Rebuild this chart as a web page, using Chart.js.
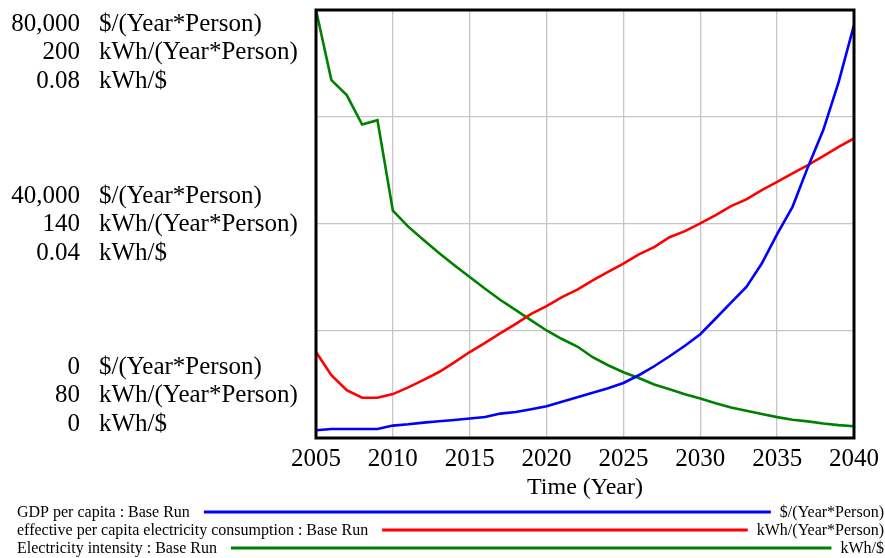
<!DOCTYPE html>
<html>
<head>
<meta charset="utf-8">
<script src="https://cdn.jsdelivr.net/npm/chart.js@4/dist/chart.umd.min.js"></script>
<style>
  html, body { margin: 0; padding: 0; background: #ffffff; }
  #wrap { width: 885px; height: 558px; position: relative; }
</style>
</head>
<body>
<div id="wrap"><canvas id="chart" width="885" height="558"></canvas></div>
<script>
// Simulation years (Base Run)
const years = [2005, 2006, 2007, 2008, 2009, 2010, 2011, 2012, 2013, 2014, 2015, 2016,
  2017, 2018, 2019, 2020, 2021, 2022, 2023, 2024, 2025, 2026, 2027, 2028,
  2029, 2030, 2031, 2032, 2033, 2034, 2035, 2036, 2037, 2038, 2039, 2040];

// GDP per capita, $/(Year*Person)
const gdpPerCapita = [1440, 1680, 1680, 1680, 1680, 2320, 2560, 2880, 3120, 3370, 3630, 3930,
  4560, 4860, 5370, 5930, 6770, 7610, 8450, 9300, 10290, 11730, 13410, 15280,
  17250, 19400, 22330, 25290, 28250, 32620, 38100, 43210, 50630, 57560, 66530, 77200];

// effective per capita electricity consumption, kWh/(Year*Person)
const electricityConsumption = [104.1, 97.6, 93.4, 91.3, 91.3, 92.3, 94.2, 96.3, 98.5, 101.2, 104.1, 106.7,
  109.4, 112.0, 114.8, 117.0, 119.5, 121.6, 124.2, 126.6, 128.9, 131.5, 133.5, 136.3,
  138.0, 140.2, 142.5, 145.0, 146.9, 149.5, 151.8, 154.2, 156.5, 159.0, 161.6, 164.0];

// Electricity intensity, kWh/$
const electricityIntensity = [0.0800, 0.0669, 0.0641, 0.0586, 0.0594, 0.0425, 0.0395, 0.0370, 0.0346, 0.0323, 0.0301, 0.0279,
  0.0258, 0.0239, 0.0220, 0.0201, 0.0185, 0.0171, 0.0151, 0.0136, 0.0123, 0.0112, 0.0100, 0.0091,
  0.0082, 0.0074, 0.0065, 0.0057, 0.0051, 0.0045, 0.0039, 0.0034, 0.0031, 0.0027, 0.0024, 0.0022];

const seriesNames = [
  'GDP per capita : Base Run',
  'effective per capita electricity consumption : Base Run',
  'Electricity intensity : Base Run'
];
const seriesUnits = ['$/(Year*Person)', 'kWh/(Year*Person)', 'kWh/$'];
const seriesColors = ['#0000ff', '#ff0000', '#008000'];

// Labelled values on the stacked vertical axes (top, middle, bottom)
const gdpTicks = [80000, 40000, 0];
const consumptionTicks = [200, 140, 80];
const intensityTicks = [0.08, 0.04, 0];

const xTicks = [2005, 2010, 2015, 2020, 2025, 2030, 2035, 2040];
const xTitle = 'Time (Year)';

const SERIF = '"Liberation Serif", "Times New Roman", serif';

function toPoints(values) {
  return years.map((yr, i) => ({ x: yr, y: values[i] }));
}

// Frame, stacked axis labels, x title and the legend rows
const annotate = {
  id: 'annotate',
  afterDatasetsDraw(chart) {
    const ctx = chart.ctx;
    const a = chart.chartArea;
    ctx.save();
    ctx.strokeStyle = '#000000';
    ctx.lineWidth = 3;
    ctx.strokeRect(a.left, a.top, a.right - a.left, a.bottom - a.top);
    ctx.restore();
  },
  afterDraw(chart) {
    const ctx = chart.ctx;
    const a = chart.chartArea;
    const yScale = chart.scales.y;
    ctx.save();
    ctx.fillStyle = '#000000';
    ctx.font = '25px ' + SERIF;
    ctx.textBaseline = 'middle';
    const groups = [
      gdpTicks.map(v => v.toLocaleString('en-US')),
      consumptionTicks.map(v => String(v)),
      intensityTicks.map(v => String(v))
    ];
    const starts = [14, -28, -71];
    for (let g = 0; g < 3; g++) {
      const anchor = yScale.getPixelForValue(gdpTicks[g]);
      for (let s = 0; s < 3; s++) {
        const yy = anchor + starts[g] + s * 28.5;
        ctx.textAlign = 'right';
        ctx.fillText(groups[s][g], 80, yy);
        ctx.textAlign = 'left';
        ctx.fillText(seriesUnits[s], 99, yy);
      }
    }
    // x axis title
    ctx.font = '24px ' + SERIF;
    ctx.textAlign = 'center';
    ctx.fillText(xTitle, (a.left + a.right) / 2, 488);

    // legend rows
    ctx.font = '16px ' + SERIF;
    const rowY = [513, 531, 549];
    for (let i = 0; i < 3; i++) {
      const y = rowY[i];
      ctx.textAlign = 'left';
      ctx.fillText(seriesNames[i], 17, y);
      const nameEnd = 17 + ctx.measureText(seriesNames[i]).width;
      ctx.textAlign = 'right';
      ctx.fillText(seriesUnits[i], 884, y);
      const unitStart = 884 - ctx.measureText(seriesUnits[i]).width;
      ctx.strokeStyle = seriesColors[i];
      ctx.lineWidth = 3;
      ctx.beginPath();
      ctx.moveTo(nameEnd + 14, y - 1);
      ctx.lineTo(unitStart - 9, y - 1);
      ctx.stroke();
    }
    ctx.restore();
  }
};

const gridColor = '#c6c6c6';

new Chart(document.getElementById('chart'), {
  type: 'line',
  data: {
    datasets: [
      { label: seriesNames[0], data: toPoints(gdpPerCapita), yAxisID: 'y',
        borderColor: seriesColors[0], backgroundColor: seriesColors[0] },
      { label: seriesNames[1], data: toPoints(electricityConsumption), yAxisID: 'y1',
        borderColor: seriesColors[1], backgroundColor: seriesColors[1] },
      { label: seriesNames[2], data: toPoints(electricityIntensity), yAxisID: 'y2',
        borderColor: seriesColors[2], backgroundColor: seriesColors[2] }
    ]
  },
  options: {
    responsive: false,
    animation: false,
    layout: { padding: { top: 10, right: 30, left: 0, bottom: 0 } },
    elements: {
      line: { borderWidth: 2.6, tension: 0 },
      point: { radius: 0, hoverRadius: 0 }
    },
    plugins: {
      legend: { display: false },
      tooltip: { enabled: false }
    },
    scales: {
      x: {
        type: 'linear',
        min: 2005,
        max: 2040,
        afterBuildTicks(scale) { scale.ticks = xTicks.map(v => ({ value: v })); },
        afterFit(scale) { scale.height = 120; },
        ticks: {
          color: '#000000',
          font: { family: SERIF, size: 25 },
          padding: 6,
          maxRotation: 0,
          callback: (v) => String(v)
        },
        grid: { color: gridColor, lineWidth: 1.3, drawTicks: false },
        border: { display: false }
      },
      y: {
        type: 'linear',
        position: 'left',
        min: 0,
        max: 80000,
        ticks: { display: false, stepSize: 20000 },
        afterFit(scale) { scale.width = 316; },
        grid: { color: gridColor, lineWidth: 1.3, drawTicks: false },
        border: { display: false }
      },
      y1: {
        type: 'linear',
        display: false,
        min: 80,
        max: 200
      },
      y2: {
        type: 'linear',
        display: false,
        min: 0,
        max: 0.08
      }
    }
  },
  plugins: [annotate]
});
</script>
</body>
</html>
